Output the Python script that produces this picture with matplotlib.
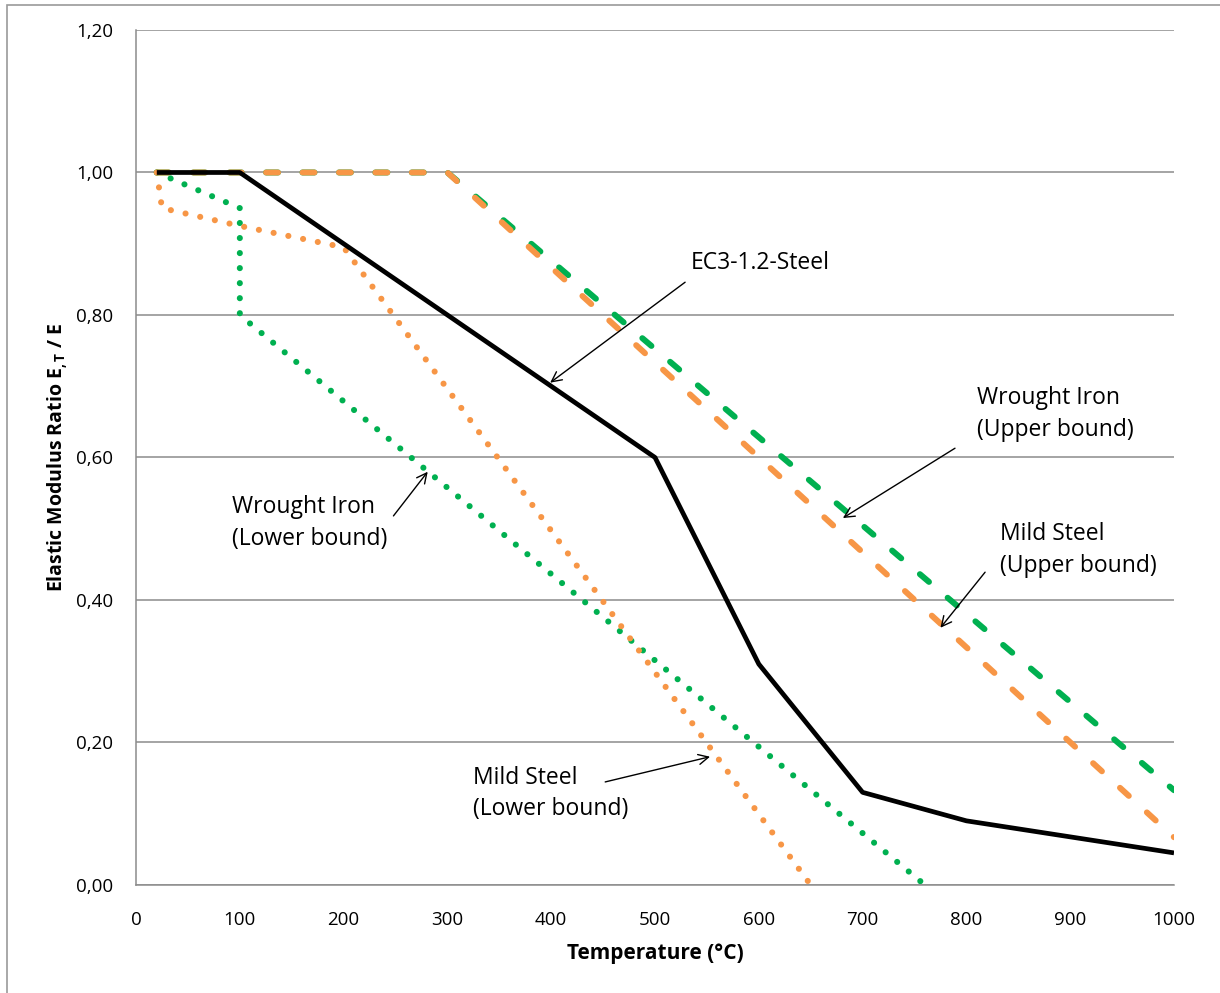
import matplotlib.pyplot as plt
from matplotlib.patches import Rectangle

plt.rcParams['font.family'] = ['Open Sans', 'DejaVu Sans']
plt.rcParams['mathtext.default'] = 'regular'

# temperature (deg C) vs. elastic modulus ratio
ec3_T = [20, 100, 200, 300, 400, 500, 600, 700, 800, 900, 1000]
ec3_E = [1.00, 1.00, 0.90, 0.80, 0.70, 0.60, 0.31, 0.13, 0.09, 0.0675, 0.045]

mild_up_T = [20, 300, 1000]
mild_up_E = [1.00, 1.00, 0.067]

wi_up_T = [20, 300, 1000]
wi_up_E = [1.00, 1.00, 0.133]

mild_lo_T = [20, 25, 100, 200, 650]
mild_lo_E = [1.00, 0.95, 0.925, 0.895, 0.00]

wi_lo_T = [20, 100, 100, 760]
wi_lo_E = [1.00, 0.95, 0.80, 0.00]

x_ticks = [0, 100, 200, 300, 400, 500, 600, 700, 800, 900, 1000]
y_ticks = [0.0, 0.2, 0.4, 0.6, 0.8, 1.0, 1.2]

ORANGE = '#F79646'
GREEN = '#00B050'

fig = plt.figure(figsize=(12.2, 9.93), dpi=100)
ax = fig.add_axes([0.1115, 0.1088, 0.8508, 0.861])

# outer chart border
fig.patches.append(Rectangle((7 / 1220, -0.01), 1.02, 1 - 5 / 993 + 0.01,
                             transform=fig.transFigure, fill=False,
                             edgecolor='#9a9a9a', lw=1.2))

dash = (0, (2.0, 4.1))
dot = (0, (0.01, 2.45))
ax.plot(wi_up_T, wi_up_E, color=GREEN, lw=4.3, linestyle=dash, dash_capstyle='round')
ax.plot(mild_up_T, mild_up_E, color=ORANGE, lw=4.3, linestyle=dash, dash_capstyle='round')
ax.plot(wi_lo_T, wi_lo_E, color=GREEN, lw=4.4, linestyle=dot, dash_capstyle='round')
ax.plot(mild_lo_T, mild_lo_E, color=ORANGE, lw=4.4, linestyle=dot, dash_capstyle='round')
ax.plot(ec3_T, ec3_E, color='black', lw=3.4, solid_capstyle='butt')

ax.set_xlim(0, 1000)
ax.set_ylim(0, 1.2)
ax.set_xticks(x_ticks)
ax.set_yticks(y_ticks)
ax.set_yticklabels([f'{v:.2f}'.replace('.', ',') for v in y_ticks])
ax.tick_params(axis='x', length=0, pad=18.5, labelsize=13.5)
ax.tick_params(axis='y', length=0, pad=16.5, labelsize=13.5)
ax.grid(axis='y', color='#8c8c8c', lw=1.1)
ax.set_axisbelow(True)
for side in ('top', 'right'):
    ax.spines[side].set_visible(False)
for side in ('left', 'bottom'):
    ax.spines[side].set_color('#8c8c8c')
    ax.spines[side].set_linewidth(1.1)

ax.set_xlabel('Temperature (°C)', fontsize=15, fontweight='bold', labelpad=10)
ax.set_ylabel('Elastic Modulus Ratio E$_{,T}$ / E', fontsize=14,
              fontweight='bold', labelpad=4)

# labels with leader arrows: (text, text pos, arrow tail, arrow head)
notes = [
    ('EC3-1.2-Steel', (534, 0.873), (529, 0.846), (399, 0.705)),
    ('Wrought Iron\n(Upper bound)', (810, 0.661), (789, 0.613), (681, 0.515)),
    ('Mild Steel\n(Upper bound)', (832, 0.470), (818, 0.439), (775, 0.361)),
    ('Wrought Iron\n(Lower bound)', (92.5, 0.508), (248, 0.518), (281, 0.580)),
    ('Mild Steel\n(Lower bound)', (325, 0.128), (452, 0.1446), (553, 0.180)),
]
for label, pos, tail, head in notes:
    ax.text(pos[0], pos[1], label, fontsize=16.5, ha='left', va='center',
            linespacing=1.4)
    ax.annotate('', xy=head, xytext=tail,
                arrowprops=dict(arrowstyle='->', color='black', lw=1.0,
                                mutation_scale=18, shrinkA=0, shrinkB=0))

fig.savefig('out.png', dpi=100)
